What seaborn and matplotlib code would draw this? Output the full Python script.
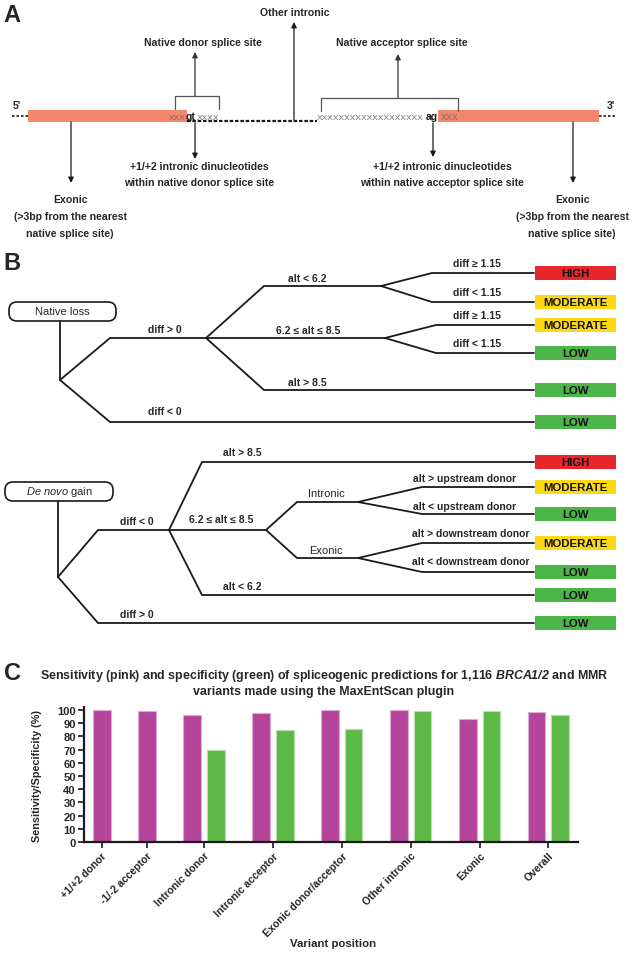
import numpy as np
import pandas as pd
import seaborn as sns
import matplotlib.pyplot as plt
from matplotlib.patches import Rectangle, FancyBboxPatch

# panel C: values (%)
positions = ["+1/+2 donor", "-1/-2 acceptor", "Intronic donor", "Intronic acceptor",
             "Exonic donor/acceptor", "Other intronic", "Exonic", "Overall"]
sensitivity = [100, 99, 96.5, 98, 100, 100, 93.5, 98.5]
specificity = [np.nan, np.nan, 70, 85, 86, 99, 99.5, 96.5]

# panel B: outcome of each leaf, top to bottom
native_leaves = ["HIGH", "MODERATE", "MODERATE", "LOW", "LOW", "LOW"]
denovo_leaves = ["HIGH", "MODERATE", "LOW", "MODERATE", "LOW", "LOW", "LOW"]
risk_colors = {"HIGH": "#e8262b", "MODERATE": "#fcd912", "LOW": "#4db648"}

sns.set_theme(style="white")
plt.rcParams["font.family"] = ["Liberation Sans", "DejaVu Sans"]
plt.rcParams["mathtext.fontset"] = "custom"
plt.rcParams["mathtext.rm"] = "Liberation Sans"
plt.rcParams["mathtext.it"] = "Liberation Sans:italic"
plt.rcParams["mathtext.bf"] = "Liberation Sans:bold"
plt.rcParams["mathtext.bfit"] = "Liberation Sans:italic:bold"

fig = plt.figure(figsize=(6.43, 9.54), dpi=100)
ax = fig.add_axes([0, 0, 1, 1])
ax.set_xlim(0, 643)
ax.set_ylim(954, 0)
ax.axis("off")


def txt(x, y, s, size=7.6, weight="bold", **kw):
    kw.setdefault("ha", "center")
    kw.setdefault("va", "center")
    ax.text(x, y, s, fontsize=size, fontweight=weight, **kw)


def arrow(x, y0, y1, col="k"):
    ax.annotate("", xy=(x, y1), xytext=(x, y0),
                arrowprops=dict(arrowstyle="-|>", color=col, lw=0.9,
                                mutation_scale=8, shrinkA=0, shrinkB=0))


def panel_letter(x, y, s):
    ax.text(x, y, s, fontsize=17, fontweight="bold", ha="left", va="center")


# ---------------- panel A ----------------
panel_letter(3, 16, "A")
exon_col = "#f4876b"
ax.add_patch(Rectangle((28, 111), 159, 12, color=exon_col, lw=0))
ax.add_patch(Rectangle((438, 111), 161, 12, color=exon_col, lw=0))
ax.plot([12, 28], [117, 117], color="k", lw=1.2, ls=(0, (1.5, 1.2)))
ax.plot([599, 616], [117, 117], color="k", lw=1.2, ls=(0, (1.5, 1.2)))
ax.plot([187, 317], [121.5, 121.5], color="k", lw=1.6, ls=(0, (1.6, 0.8)))

seq_grey = "#6e6e6e"
ax.text(186, 120, "XXX", fontsize=6.0, color=seq_grey, ha="right", va="baseline")
ax.text(186, 120, "gt", fontsize=7.5, fontweight="bold", color="k", ha="left", va="baseline")
ax.text(197, 120, "XXXX", fontsize=6.0, color=seq_grey, ha="left", va="baseline")
ax.text(317, 120, "X" * 19, fontsize=6.0, color=seq_grey, ha="left", va="baseline")
ax.text(426, 120, "ag", fontsize=7.5, fontweight="bold", color="k", ha="left", va="baseline")
ax.text(441, 120, "XXX", fontsize=6.3, color=seq_grey, ha="left", va="baseline")

# brackets above the splice sites
ax.plot([175, 175, 219, 219], [110, 97, 97, 110], color="#555555", lw=0.9)
ax.plot([321, 321, 458, 458], [112, 99, 99, 112], color="#555555", lw=0.9)

arrow(294, 121, 23)
arrow(195, 97, 53, "#333333")
arrow(398, 99, 55, "#333333")
arrow(71, 123, 184)
arrow(195, 124, 160)
arrow(433, 124, 158)
arrow(573, 123, 184)

txt(295, 13, "Other intronic")
txt(203, 43, "Native donor splice site")
txt(402, 43, "Native acceptor splice site")
txt(17, 106, "5'")
txt(611, 106, "3'")
txt(199, 167, "+1/+2 intronic dinucleotides")
txt(199, 183, "within native donor splice site")
txt(442, 167, "+1/+2 intronic dinucleotides")
txt(442, 183, "within native acceptor splice site")
for cx in (70, 572):
    txt(cx, 200, "Exonic")
    txt(cx, 217, "(>3bp from the nearest")
    txt(cx, 234, "native splice site)")

# ---------------- panel B ----------------
panel_letter(3, 264, "B")
tree_lw = 1.3
box_x0, box_w, box_h = 535, 81, 14
lab_size = 7.5


def path(xs, ys):
    ax.plot(xs, ys, color="k", lw=tree_lw, solid_joinstyle="miter")


def leaf(y, label):
    ax.add_patch(Rectangle((box_x0, y - box_h / 2), box_w, box_h,
                           color=risk_colors[label], lw=0))
    ax.text(box_x0 + box_w / 2, y + 0.5, label, fontsize=8.2, fontweight="bold",
            ha="center", va="center", color="#111111")


def root(x0, y0, x1, y1):
    ax.add_patch(FancyBboxPatch((x0, y0), x1 - x0, y1 - y0,
                                boxstyle="round,pad=0,rounding_size=8",
                                fc="white", ec="k", lw=1.2))


# native loss tree
root(9, 303, 116, 322)
txt(62, 312.5, "Native loss", size=8, weight="normal")
path([60, 60], [322, 381])
path([60, 110, 206], [381, 339, 339])
path([60, 110, 534], [381, 423, 423])
path([206, 264, 381], [339, 287, 287])
path([381, 432, 534], [287, 274, 274])
path([381, 432, 534], [287, 303, 303])
path([206, 385], [339, 339])
path([385, 436, 534], [339, 326, 326])
path([385, 436, 534], [339, 354, 354])
path([206, 264, 534], [339, 391, 391])
for yy, lab in zip([274, 303, 326, 354, 391, 423], native_leaves):
    leaf(yy, lab)
txt(165, 330, "diff > 0", size=lab_size)
txt(165, 412, "diff < 0", size=lab_size)
txt(307, 279, "alt < 6.2", size=lab_size)
txt(308, 331, "6.2 ≤ alt ≤ 8.5", size=lab_size)
txt(307, 383, "alt > 8.5", size=lab_size)
for yy, lab in zip([264, 293, 316, 344], ["diff ≥ 1.15", "diff < 1.15", "diff ≥ 1.15", "diff < 1.15"]):
    txt(477, yy, lab, size=lab_size)

# de novo gain tree
root(5, 483, 113, 502)
txt(59, 492.5, r"$\mathit{De\ novo}$ gain", size=8, weight="normal")
path([58, 58], [502, 578])
path([58, 98, 169], [578, 531, 531])
path([58, 98, 534], [578, 624, 624])
path([169, 202, 534], [531, 463, 463])
path([169, 266], [531, 531])
path([266, 297, 358], [531, 503, 503])
path([358, 422, 534], [503, 488, 488])
path([358, 422, 534], [503, 515, 515])
path([266, 297, 358], [531, 559, 559])
path([358, 422, 534], [559, 544, 544])
path([358, 422, 534], [559, 573, 573])
path([169, 202, 534], [531, 596, 596])
for yy, lab in zip([463, 488, 515, 544, 573, 596, 624], denovo_leaves):
    leaf(yy, lab)
txt(137, 522, "diff < 0", size=lab_size)
txt(137, 615, "diff > 0", size=lab_size)
txt(242, 453, "alt > 8.5", size=lab_size)
txt(221, 520, "6.2 ≤ alt ≤ 8.5", size=lab_size)
txt(242, 587, "alt < 6.2", size=lab_size)
txt(326, 494, "Intronic", size=8, weight="normal")
txt(326, 551, "Exonic", size=8, weight="normal")
txt(465, 479, "alt > upstream donor", size=lab_size)
txt(465, 507, "alt < upstream donor", size=lab_size)
txt(471, 534, "alt > downstream donor", size=lab_size)
txt(471, 562, "alt < downstream donor", size=lab_size)

# ---------------- panel C ----------------
panel_letter(4, 674, "C")
txt(324, 676, r"Sensitivity (pink) and specificity (green) of spliceogenic predictions for 1,116 $\mathbfit{BRCA1/2}$ and MMR", size=8.9)
txt(324, 692, "variants made using the MaxEntScan plugin", size=8.9)

# bar layout: single-bar groups are narrower, as in the original
w, g, G = 1.0, 0.34, 1.55
centers, rows = [], []
cursor = 0.0
for name, s, p in zip(positions, sensitivity, specificity):
    n = 1 if np.isnan(p) else 2
    gw = n * w + (n - 1) * g
    centers.append(cursor + gw / 2)
    rows.append({"x": cursor + w / 2, "value": s, "measure": "Sensitivity"})
    if n == 2:
        rows.append({"x": cursor + w + g + w / 2, "value": p, "measure": "Specificity"})
    cursor += gw + G
df = pd.DataFrame(rows)

axc = fig.add_axes([84 / 643, 1 - 843 / 954, 494 / 643, 135 / 954])
sns.barplot(data=df, x="x", y="value", hue="measure", native_scale=True, dodge=False,
            palette={"Sensitivity": "#b5449b", "Specificity": "#5dba47"}, saturation=1,
            width=w / (w + g), errorbar=None, legend=False, ax=axc)
for bar in axc.patches:
    fc = np.array(bar.get_facecolor())
    bar.set_edgecolor(tuple(fc[:3] * 0.45 + 0.55) + (1,))
    bar.set_linewidth(0.8)

axc.set_xlim(-0.5, cursor - G + 0.5)
axc.set_ylim(0, 102.3)
axc.set_yticks(range(0, 101, 10))
axc.set_yticklabels([str(v) for v in range(0, 101, 10)], fontsize=8, fontweight="bold")
axc.set_xticks(centers)
axc.set_xticklabels(positions, rotation=45, ha="right", rotation_mode="anchor",
                    fontsize=7.6, fontweight="bold")
axc.tick_params(axis="both", direction="out", length=4, width=1.2, color="k",
                bottom=True, left=True, pad=2)
for side in ("top", "right"):
    axc.spines[side].set_visible(False)
for side in ("left", "bottom"):
    axc.spines[side].set_color("k")
    axc.spines[side].set_linewidth(1.6)
axc.set_ylabel("Sensitivity/Specificity (%)", fontsize=7.8, fontweight="bold")
axc.yaxis.set_label_coords(-42 / 494, 0.5)
axc.set_xlabel("Variant position", fontsize=8.2, fontweight="bold", va="center")
axc.xaxis.set_label_coords((333 - 84) / 494, -(944 - 843) / 135)

fig.savefig("out.png", dpi=100)
